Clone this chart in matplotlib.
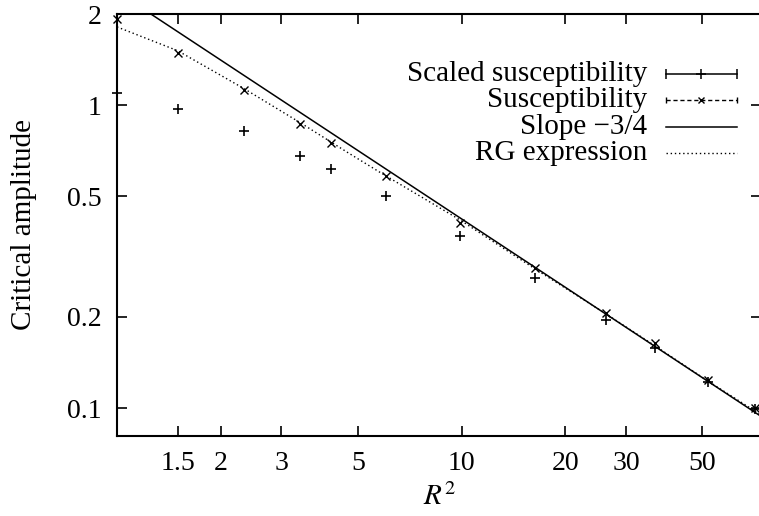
import numpy as np
import matplotlib
matplotlib.use("Agg")
import matplotlib.pyplot as plt
from matplotlib.ticker import FixedLocator, FixedFormatter, NullLocator

plt.rcParams['font.family'] = ['Liberation Serif', 'DejaVu Serif']
plt.rcParams['mathtext.fontset'] = 'stix'

# R^2 values shared by both measured series
r2 = [1.0, 1.50, 2.34, 3.40, 4.18, 6.04, 9.90, 16.3, 26.3, 36.5, 51.8, 70.9]
scaled_chi = [1.096, 0.975, 0.821, 0.682, 0.615, 0.501, 0.370, 0.268, 0.196, 0.158, 0.122, 0.0995]
chi = [1.93, 1.49, 1.12, 0.864, 0.751, 0.583, 0.409, 0.289, 0.206, 0.164, 0.124, 0.100]

# RG expression curve
rg_x = [1.0, 1.50, 2.338, 3.40, 4.71, 5.83, 9.87, 16.2, 26.2, 36.3, 51.8, 74.0]
rg_y = [1.813, 1.513, 1.134, 0.876, 0.694, 0.598, 0.419, 0.290, 0.205, 0.161, 0.123, 0.095]

# power law reference line
slope = -0.75
amp = 2.37
slope_x = np.array([1.0, 74.0])

x_ticks = [1.5, 2, 3, 5, 10, 20, 30, 50]
x_labels = ['1.5', '2', '3', '5', '10', '20', '30', '50']
y_ticks = [0.1, 0.2, 0.5, 1, 2]
y_labels = ['0.1', '0.2', '0.5', '1', '2']

fig = plt.figure(figsize=(7.59, 5.16), dpi=100)
ax = fig.add_axes([117 / 759, 80 / 516, 644 / 759, 422 / 516])
ax.set_xscale('log')
ax.set_yscale('log')
ax.set_xlim(1, 74)
ax.set_ylim(0.0809, 2)

ax.plot(slope_x, amp * slope_x ** slope, color='black', lw=1.1)
ax.plot(rg_x, rg_y, color='black', lw=1.0, ls=(0, (1, 2)))
ax.plot(r2, scaled_chi, ls='none', marker='+', ms=7, mew=1.2, color='black', clip_on=False)
ax.plot(r2, chi, ls='none', marker='x', ms=5.5, mew=1.0, color='black', clip_on=False)

for s in ax.spines.values():
    s.set_linewidth(1.5)

ax.xaxis.set_major_locator(FixedLocator(x_ticks))
ax.xaxis.set_major_formatter(FixedFormatter(x_labels))
ax.xaxis.set_minor_locator(NullLocator())
ax.yaxis.set_major_locator(FixedLocator(y_ticks))
ax.yaxis.set_major_formatter(FixedFormatter(y_labels))
ax.yaxis.set_minor_locator(NullLocator())
ax.tick_params(direction='in', length=7, width=1.2, top=True, right=True,
               labelsize=20, pad=11)

ax.set_ylabel('Critical amplitude', fontsize=21)
ax.yaxis.set_label_coords(-0.145, 0.5)
ax.yaxis.label.set_verticalalignment('center')
ax.set_xlabel('$R^2$', fontsize=21)
ax.xaxis.set_label_coords(0.5, -0.145)
ax.xaxis.label.set_verticalalignment('center')

# key drawn by hand, gnuplot style
key_labels = ['Scaled susceptibility', 'Susceptibility', 'Slope \u22123/4', 'RG expression']
key_y = [0.859, 0.796, 0.733, 0.670]
x0, x1 = 0.8525, 0.9627
xm = (x0 + x1) / 2
tr = ax.transAxes
for lab, yy in zip(key_labels, key_y):
    ax.text(0.823, yy, lab, transform=tr, ha='right', va='center', fontsize=21)

ax.plot([x0, x1], [key_y[0]] * 2, color='black', lw=1.1, transform=tr)
ax.plot([x0, x1], [key_y[0]] * 2, ls='none', marker='|', ms=7, mew=1.1, color='black', transform=tr)
ax.plot([xm], [key_y[0]], ls='none', marker='+', ms=7, mew=1.1, color='black', transform=tr)

ax.plot([x0, x1], [key_y[1]] * 2, color='black', lw=1.0, ls=(0, (3, 2)), transform=tr)
ax.plot([x0, x1], [key_y[1]] * 2, ls='none', marker='|', ms=5, mew=1.0, color='black', transform=tr)
ax.plot([xm], [key_y[1]], ls='none', marker='x', ms=5, mew=1.0, color='black', transform=tr)

ax.plot([x0, x1], [key_y[2]] * 2, color='black', lw=1.1, transform=tr)
ax.plot([x0, x1], [key_y[3]] * 2, color='black', lw=1.0, ls=(0, (1, 2)), transform=tr)

fig.savefig('out.png', dpi=100)
